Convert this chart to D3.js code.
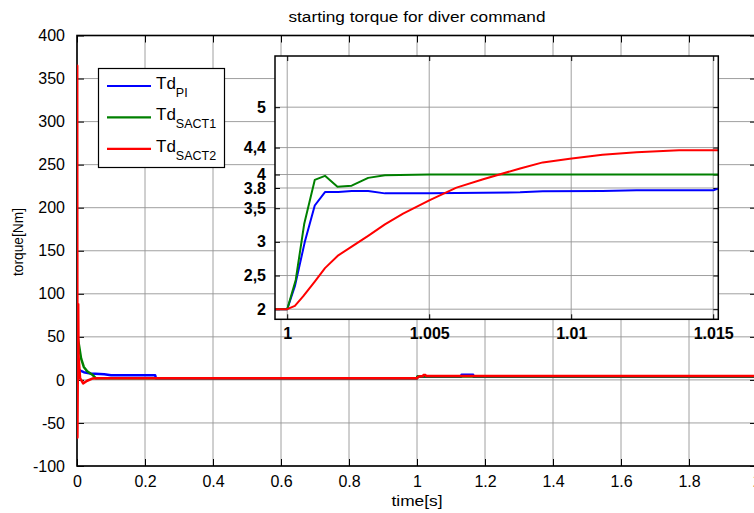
<!DOCTYPE html>
<html>
<head>
<meta charset="utf-8">
<script src="https://cdn.jsdelivr.net/npm/d3@7"></script>
<style>
  html, body { margin: 0; padding: 0; background: #fff; overflow: hidden; }
  svg { display: block; font-family: "Liberation Sans", Arial, sans-serif; }
</style>
</head>
<body>
<svg id="chart" width="754" height="513"></svg>
<script>
// ---- main axes ticks ----
const mainXTicks = [0, 0.2, 0.4, 0.6, 0.8, 1, 1.2, 1.4, 1.6, 1.8, 2];
const mainYTicks = [-100, -50, 0, 50, 100, 150, 200, 250, 300, 350, 400];

// ---- zoomed (inset) ticks ----
const insetXTicks = [1, 1.005, 1.01, 1.015];
const insetXLabels = ["1", "1.005", "1.01", "1.015"];
const insetYTicks = [2, 2.5, 3, 3.5, 3.8, 4, 4.4, 5];
const insetYLabels = ["2", "2,5", "3", "3,5", "3.8", "4", "4,4", "5"];

// ---- legend ----
const seriesNames = ["PI", "SACT1", "SACT2"];
const seriesColors = ["#0000ff", "#008000", "#ff0000"];

// ---- Td_PI : [time s, torque Nm] ----
const piStart = [[0, 0], [0.002, 14], [0.008, 11], [0.02, 9], [0.04, 7.5], [0.08, 6.5], [0.1, 5.5], [0.23, 5.5], [0.232, 2], [0.99957, 2]];
const piStep = [[1.0, 2], [1.00027, 2.34], [1.00062, 3.0], [1.00097, 3.54], [1.00133, 3.74], [1.0018, 3.74], [1.00227, 3.755], [1.00285, 3.755], [1.00344, 3.72], [1.00502, 3.72], [1.0082, 3.735], [1.009, 3.75], [1.0111, 3.755], [1.0123, 3.765], [1.015, 3.765], [1.01518, 3.79]];
const piEnd = [[1.02, 3.8], [1.13, 3.8], [1.131, 6.0], [1.165, 6.0], [1.166, 3.8], [2, 3.8]];

// ---- Td_SACT1 ----
const sact1Start = [[0, 0], [0.0015, 50], [0.006, 40], [0.012, 25], [0.02, 15], [0.03, 10], [0.045, 6], [0.055, 2], [0.99957, 2]];
const sact1Step = [[1.0, 2], [1.0003, 2.435], [1.0006, 3.27], [1.00097, 3.92], [1.00133, 3.98], [1.00177, 3.82], [1.00227, 3.835], [1.00285, 3.95], [1.00344, 3.99], [1.005, 4.0], [1.01518, 4.0]];
const sact1End = [[2, 4.0]];

// ---- Td_SACT2 ----
const sact2Start = [[0, 2], [0.0006, 365], [0.0012, -67], [0.0035, 88], [0.0045, 28], [0.009, 2], [0.018, -4], [0.03, -1], [0.045, 1.5], [0.06, 2], [0.99957, 2]];
const sact2Step = [[1.0, 2], [1.00027, 2.05], [1.00056, 2.19], [1.00097, 2.41], [1.00133, 2.61], [1.0018, 2.80], [1.00227, 2.93], [1.00285, 3.09], [1.00344, 3.26], [1.00408, 3.42], [1.00502, 3.62], [1.00596, 3.805], [1.0069, 3.93], [1.0082, 4.09], [1.009, 4.18], [1.00995, 4.235], [1.0111, 4.295], [1.0123, 4.33], [1.0138, 4.36], [1.01518, 4.36]];
const sact2End = [[1.017, 4.4], [1.019, 5.6], [1.025, 5.6], [1.027, 4.4], [2, 4.4]];

const fullSeries = [
  piStart.concat(piStep, piEnd),
  sact1Start.concat(sact1Step, sact1End),
  sact2Start.concat(sact2Step, sact2End)
];
const stepSeries = [
  [[0.99957, 2]].concat(piStep),
  [[0.99957, 2]].concat(sact1Step),
  [[0.99957, 2]].concat(sact2Step)
];

const svg = d3.select("#chart");
const gridColor = "#959595";

// ================= main axes =================
const M = { left: 77, right: 757, top: 35.5, bottom: 466 };
const x = d3.scaleLinear().domain([0, 2]).range([M.left, M.right]);
const y = d3.scaleLinear().domain([-100, 400]).range([M.bottom, M.top]);

svg.append("defs").append("clipPath").attr("id", "mainClip")
  .append("rect").attr("x", M.left).attr("y", M.top)
  .attr("width", M.right - M.left).attr("height", M.bottom - M.top);

const grid = svg.append("g");
grid.selectAll("line.gx").data(mainXTicks).join("line")
  .attr("x1", d => x(d)).attr("x2", d => x(d))
  .attr("y1", M.top).attr("y2", M.bottom)
  .attr("stroke", gridColor).attr("stroke-width", 0.9);
grid.selectAll("line.gy").data(mainYTicks).join("line")
  .attr("x1", M.left).attr("x2", M.right)
  .attr("y1", d => y(d)).attr("y2", d => y(d))
  .attr("stroke", gridColor).attr("stroke-width", 0.9);

const fmt1 = d => String(+d.toFixed(1));

function styleAxis(g) {
  g.select(".domain").remove();
  g.selectAll(".tick line").attr("stroke", "#000").attr("stroke-width", 1);
  g.selectAll(".tick text").attr("fill", "#000").attr("font-size", 16)
    .attr("font-family", "Liberation Sans, Arial, sans-serif");
}

// bottom axis with inward ticks
svg.append("g").attr("transform", `translate(0,${M.bottom})`)
  .call(d3.axisBottom(x).tickValues(mainXTicks).tickFormat(fmt1).tickSizeInner(-7).tickSizeOuter(0).tickPadding(10))
  .call(styleAxis);
svg.append("g").attr("transform", `translate(0,${M.top})`)
  .call(d3.axisTop(x).tickValues(mainXTicks).tickFormat("").tickSizeInner(-7).tickSizeOuter(0))
  .call(styleAxis);
svg.append("g").attr("transform", `translate(${M.left},0)`)
  .call(d3.axisLeft(y).tickValues(mainYTicks).tickFormat(d => String(d)).tickSizeInner(-7).tickSizeOuter(0).tickPadding(12))
  .call(styleAxis);
svg.append("g").attr("transform", `translate(${M.right},0)`)
  .call(d3.axisRight(y).tickValues(mainYTicks).tickFormat("").tickSizeInner(-7).tickSizeOuter(0))
  .call(styleAxis);

// frame
svg.append("rect").attr("x", M.left).attr("y", M.top)
  .attr("width", M.right - M.left).attr("height", M.bottom - M.top)
  .attr("fill", "none").attr("stroke", "#000").attr("stroke-width", 1.6);

const mainLine = d3.line().x(d => x(d[0])).y(d => y(d[1]));
svg.append("g").attr("clip-path", "url(#mainClip)")
  .selectAll("path").data(fullSeries).join("path")
  .attr("d", mainLine)
  .attr("fill", "none")
  .attr("stroke", (d, i) => seriesColors[i])
  .attr("stroke-width", 2.5)
  .attr("stroke-linejoin", "round");

// titles
svg.append("text").attr("x", (M.left + M.right) / 2).attr("y", 22)
  .attr("text-anchor", "middle").attr("font-size", 15.5)
  .attr("textLength", 257).attr("lengthAdjust", "spacingAndGlyphs")
  .text("starting torque for diver command");
svg.append("text").attr("x", (M.left + M.right) / 2).attr("y", 506)
  .attr("text-anchor", "middle").attr("font-size", 15.5)
  .attr("textLength", 51).attr("lengthAdjust", "spacingAndGlyphs")
  .text("time[s]");
svg.append("text").attr("transform", "translate(23,242) rotate(-90)")
  .attr("text-anchor", "middle").attr("font-size", 15)
  .attr("textLength", 68).attr("lengthAdjust", "spacingAndGlyphs")
  .text("torque[Nm]");

// ================= legend =================
const L = { x: 98.5, y: 68.5, w: 126, h: 99 };
const lg = svg.append("g");
lg.append("rect").attr("x", L.x).attr("y", L.y).attr("width", L.w).attr("height", L.h)
  .attr("fill", "#fff").attr("stroke", "#000").attr("stroke-width", 1.2);
const rows = lg.selectAll("g.row").data(seriesNames).join("g")
  .attr("transform", (d, i) => `translate(0,${89 + i * 31.4})`);
rows.append("line").attr("x1", 107).attr("x2", 151).attr("y1", -3).attr("y2", -3)
  .attr("stroke", (d, i) => seriesColors[i]).attr("stroke-width", 2.2);
const lt = rows.append("text").attr("x", 156).attr("y", 0).attr("font-size", 17);
lt.append("tspan").text("Td");
lt.append("tspan").attr("dy", 8).attr("font-size", 12.5).text(d => d);

// ================= inset axes =================
const I = { left: 275, right: 718.3, top: 56, bottom: 319.3 };
const xi = d3.scaleLinear().domain([0.99957, 1.01518]).range([I.left, I.right]);
const yi = d3.scaleLinear().domain([1.85, 5.76]).range([I.bottom, I.top]);

svg.select("defs").append("clipPath").attr("id", "insetClip")
  .append("rect").attr("x", I.left).attr("y", I.top)
  .attr("width", I.right - I.left).attr("height", I.bottom - I.top);

const ins = svg.append("g");
ins.append("rect").attr("x", I.left).attr("y", I.top)
  .attr("width", I.right - I.left).attr("height", I.bottom - I.top)
  .attr("fill", "#fff");
ins.selectAll("line.gx").data(insetXTicks).join("line")
  .attr("x1", d => xi(d)).attr("x2", d => xi(d))
  .attr("y1", I.top).attr("y2", I.bottom)
  .attr("stroke", gridColor).attr("stroke-width", 0.9);
ins.selectAll("line.gy").data(insetYTicks).join("line")
  .attr("x1", I.left).attr("x2", I.right)
  .attr("y1", d => yi(d)).attr("y2", d => yi(d))
  .attr("stroke", gridColor).attr("stroke-width", 0.9);

function styleInset(g) {
  g.select(".domain").remove();
  g.selectAll(".tick line").attr("stroke", "#000").attr("stroke-width", 1);
  g.selectAll(".tick text").attr("fill", "#000").attr("font-size", 16)
    .attr("font-weight", "bold")
    .attr("font-family", "Liberation Sans, Arial, sans-serif");
}
ins.append("g").attr("transform", `translate(0,${I.bottom})`)
  .call(d3.axisBottom(xi).tickValues(insetXTicks).tickFormat((d, i) => insetXLabels[i]).tickSizeInner(-5).tickSizeOuter(0).tickPadding(8))
  .call(styleInset);
ins.append("g").attr("transform", `translate(0,${I.top})`)
  .call(d3.axisTop(xi).tickValues(insetXTicks).tickFormat("").tickSizeInner(-5).tickSizeOuter(0))
  .call(styleInset);
ins.append("g").attr("transform", `translate(${I.left},0)`)
  .call(d3.axisLeft(yi).tickValues(insetYTicks).tickFormat((d, i) => insetYLabels[i]).tickSizeInner(-5).tickSizeOuter(0).tickPadding(9))
  .call(styleInset);
ins.append("g").attr("transform", `translate(${I.right},0)`)
  .call(d3.axisRight(yi).tickValues(insetYTicks).tickFormat("").tickSizeInner(-5).tickSizeOuter(0))
  .call(styleInset);

const insetLine = d3.line().x(d => xi(d[0])).y(d => yi(d[1]));
ins.append("g").attr("clip-path", "url(#insetClip)")
  .selectAll("path").data(stepSeries).join("path")
  .attr("d", insetLine)
  .attr("fill", "none")
  .attr("stroke", (d, i) => seriesColors[i])
  .attr("stroke-width", 2)
  .attr("stroke-linejoin", "round");

ins.append("rect").attr("x", I.left).attr("y", I.top)
  .attr("width", I.right - I.left).attr("height", I.bottom - I.top)
  .attr("fill", "none").attr("stroke", "#000").attr("stroke-width", 1.5);
</script>
</body>
</html>
